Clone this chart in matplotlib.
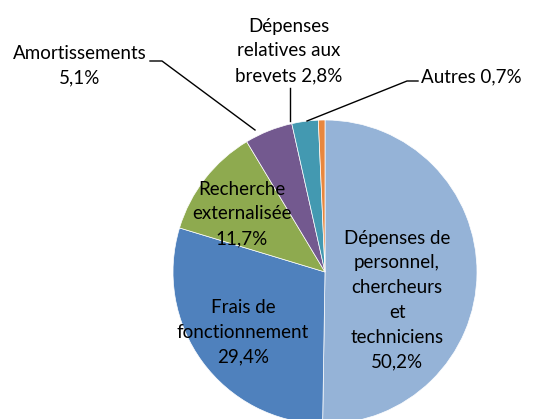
import matplotlib
matplotlib.use("Agg")
import matplotlib.pyplot as plt

# données
categories = ["Dépenses de\npersonnel,\nchercheurs\net\ntechniciens",
              "Frais de\nfonctionnement",
              "Recherche\nexternalisée",
              "Amortissements",
              "Dépenses\nrelatives aux\nbrevets",
              "Autres"]
parts = [50.2, 29.4, 11.7, 5.1, 2.8, 0.7]
couleurs = ["#95B3D7", "#4F81BD", "#8EAA4F", "#73598F", "#4399B1", "#E8873E"]

plt.rcParams['font.family'] = ['Lato', 'DejaVu Sans']

fig = plt.figure(figsize=(5.5, 4.19), dpi=100)
ax = fig.add_axes([0, 0, 1, 1])

H = 419
cx, cy, r = 325, H - 272, 152

ax.pie(parts, colors=couleurs, startangle=90, counterclock=False,
       center=(cx, cy), radius=r, frame=True,
       wedgeprops=dict(linewidth=0.5, edgecolor='white'))
ax.set_xlim(0, 550)
ax.set_ylim(0, 419)
ax.set_aspect('equal')
ax.axis('off')

def pct(v):
    return f"{v:.1f}%".replace(".", ",")

fs = 13.5
ls = 1.55
# étiquettes intérieures
ax.text(397, H - 300, categories[0] + "\n" + pct(parts[0]), ha='center', va='center',
        fontsize=fs, linespacing=ls)
ax.text(243, H - 332, categories[1] + "\n" + pct(parts[1]), ha='center', va='center',
        fontsize=fs, linespacing=ls)
ax.text(242, H - 214, categories[2] + "\n" + pct(parts[2]), ha='center', va='center',
        fontsize=fs, linespacing=ls)

# étiquettes extérieures avec traits de rappel
ax.text(80, H - 66, categories[3] + "\n" + pct(parts[3]), ha='center', va='center',
        fontsize=fs, linespacing=ls)
ax.plot([150, 162, 255], [H - 61, H - 61, H - 130], color='black', lw=1)

ax.text(289, H - 51, categories[4] + " " + pct(parts[4]), ha='center', va='center',
        fontsize=fs, linespacing=ls)
ax.plot([290, 290], [H - 88, H - 121], color='black', lw=1)

ax.text(421, H - 77, categories[5] + " " + pct(parts[5]), ha='left', va='center',
        fontsize=fs)
ax.plot([418, 407, 307], [H - 81, H - 81, H - 121], color='black', lw=1)

fig.savefig("out.png", dpi=100)
